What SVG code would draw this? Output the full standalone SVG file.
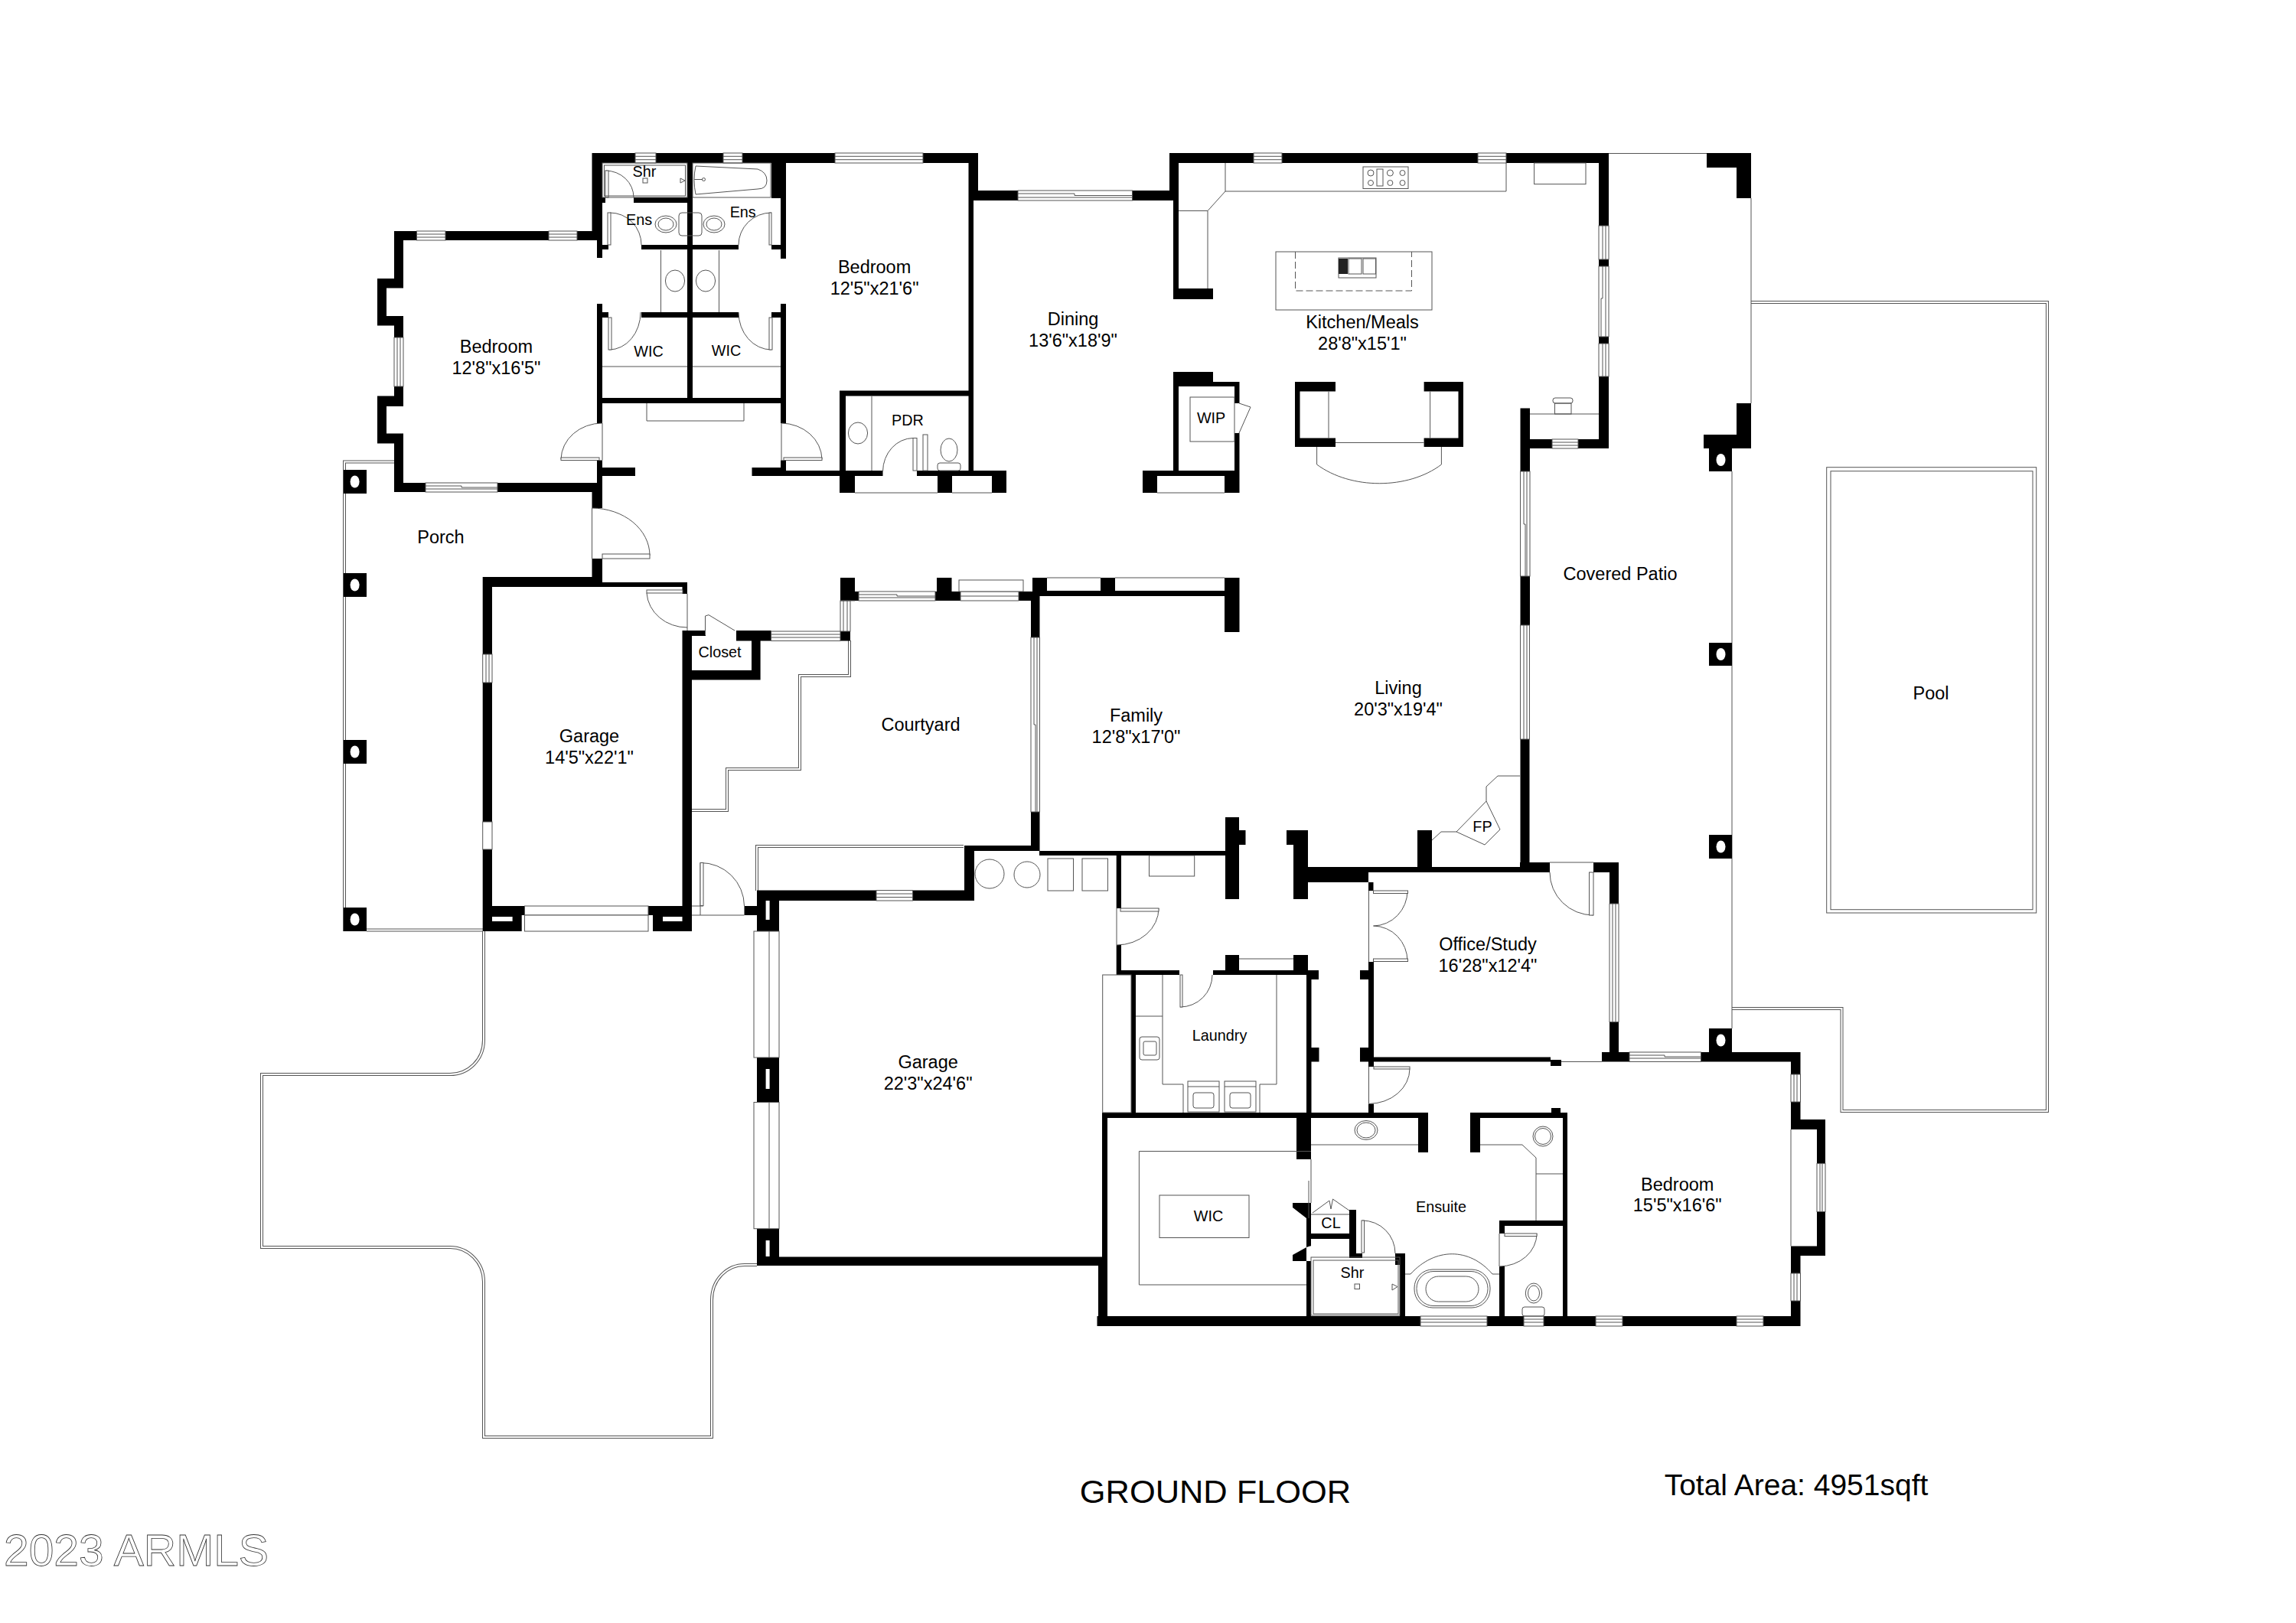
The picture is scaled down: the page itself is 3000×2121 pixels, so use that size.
<svg xmlns="http://www.w3.org/2000/svg" width="3000" height="2121" viewBox="0 0 3000 2121">
<style>
text{font-family:"Liberation Sans",Arial,sans-serif;fill:#000;text-anchor:middle}
.l{font-size:23.500px}.s{font-size:19.800px}
.t,.w,.d,.f{stroke:#555;stroke-width:1}
.t,.d{fill:none}
.w,.f{fill:#fff}
.o{fill:none;stroke:#555;stroke-width:4}
.i{fill:none;stroke:#fff;stroke-width:2}
</style>
<rect width="3000" height="2121" fill="#fff"/>
<g id="outdoor">
<path id="walkway" class="o" d="M632 1217V1359C632 1385 612 1404 588 1404H342V1630H588C612 1630 632 1650 632 1675V1878H930V1699C930 1672 950 1653 973 1653H989"/>
<path class="i" d="M632 1217V1359C632 1385 612 1404 588 1404H342V1630H588C612 1630 632 1650 632 1675V1878H930V1699C930 1672 950 1653 973 1653H989"/>
<path id="poolDeck" class="o" d="M2288 395H2675V1452H2406.500V1318H2263"/>
<path class="i" d="M2288 395H2675V1452H2406.500V1318H2263"/>
<g id="pool"><rect class="t" x="2386.700" y="610.700" width="274" height="582.300"/><rect class="t" x="2392" y="615.700" width="264" height="573" stroke-width="2"/></g>
<path id="courtSteps" class="o" d="M1110 837V883H1045V1005H950V1059H904"/>
<path class="i" d="M1110 837V883H1045V1005H950V1059H904"/>
<path id="planter" class="o" d="M1259 1106H989V1164"/>
<path class="i" d="M1259 1106H989V1164"/>
<path class="o" d="M450 1217V603.500H515M479 1215.500H631" stroke-width="3"/>
<path class="i" d="M450 1217V603.500H515M479 1215.500H631" stroke-width="1"/>
<path class="t" d="M2102 200.500H2230M2288 259V527M2263 616V1344"/>
</g>
<path id="walls" fill="#000" d="M773.500 200H1278V213H773.500zM773.500 200H787V314H773.500zM515 302H787V314H515zM780 314H787V337H780zM1265.500 200H1278V262H1265.500zM1265.500 262H1272V622H1265.500zM1272 249H1540V262H1272z
M515 302H527V364H515zM493 364H527V376.500H493zM493 364H505V425.600H493zM493 413H527V425.600H493zM515 413H527V441H515zM515 505H527V531H515zM493 517.500H527V531H493zM493 517.500H505V579.500H493zM493 566.600H527V579.500H493zM515 566.600H527V643H515zM515 631H787V643H515z
M780 397H787V553H780zM780 601.500H787V643H780zM780 611H830V622H780zM773.500 631H787V664H773.500zM773.500 730H787V761H773.500z
M630.700 754H787V767H630.700zM787 761H898V767H787zM891.500 761H898V776H891.500z
M898 213H905V527H898zM1008 213H1027V259H1008zM1020 259H1027V338H1020zM780 258H791V265H780zM828 258H898V265H828zM838 320H898V326H838zM905 320H965V326H905zM1008 320H1027V326H1008zM780 320H795V326H780zM838 408H898V415H838zM905 408H965V415H905zM780 408H795V415H780zM1008 408H1027V415H1008zM1020 397H1027V553H1020zM1020 601.500H1027V622H1020zM982.500 611H1027V622H982.500zM1027 615H1097V622H1027zM787 520H1027V527H787z
M1097 510.600H1105V644H1097zM1097 510.600H1272V517.500H1097zM1097 615H1153.500V622H1097zM1198 615H1315V622H1198zM1098 615H1117V644H1098zM1225 615H1244V644H1225zM1296 615H1315V644H1296z
M1528 200H2102V213H1528zM1528 200H1540V262H1528zM1533 262H1540V391H1533zM1533 377H1585V391H1533zM2089 200H2102V295H2089zM2089 339H2102V348H2089zM2089 440H2102V449H2089zM2089 492H2102V586H2089zM1986.500 574H2102V586H1986.500zM1986.500 533.500H1999V616H1986.500zM1986.500 753H1999V817H1986.500zM1986.500 966H1998.500V1140H1986.500z
M1533 486H1585V499H1533zM1533 499H1619.500V505H1533zM1533 505H1540V622H1533zM1613 505H1619.500V527H1613zM1613 566H1619.500V644H1613zM1493 615H1619.500V622H1493zM1493 615H1512V644H1493zM1600 615H1619.500V644H1600z
M1692 499H1745V511.500H1692zM1692 499H1698.500V584H1692zM1692 572.500H1745V584H1692zM1860.600 499H1912V511.500H1860.600zM1905.500 499H1912V584H1905.500zM1860.600 572.500H1912V584H1860.600z
M2230 200H2288V219H2230zM2269 200H2288V259H2269zM2269 527H2288V586H2269zM2226 568H2288V586H2226zM2233 586H2263V616H2233zM2233 840H2263V870H2233zM2233 1091H2263V1122H2233zM2233 1344H2263V1375H2233z
M449 614H479V645H449zM449 749H479V780H449zM449 967H479V998H449zM449 1186H479V1217H449z
M1098 755H1117V785H1098zM1098 773H1122V785H1098zM1222 773H1255V785H1222zM1224 755H1243.500V773H1224zM1331 773H1349V785H1331zM1349 755H1368V779H1349zM1349 772H1619.500V779H1349zM1438 755H1457V772H1438zM1600 755H1619.500V826H1600zM1347 779H1358.500V833H1347zM1347 1061H1358.500V1112H1347zM1260 1105H1358V1112H1260zM1358 1112H1619V1118H1358zM1098 825H1111V837.500H1098z
M630.700 754H643V855H630.700zM630.700 892H643V1074H630.700zM630.700 1110H643V1217H630.700zM891.500 824H904V1217H891.500zM891.500 824H922V831H891.500zM962 824H1007.600V837.500H962zM982 831H993.600V888.600H982zM891.500 876H993.600V888.600H891.500z
M630.700 1184H685.500V1196H630.700zM630.700 1184H681.700V1217H630.700zM847 1184H904V1196H847zM853 1184H904V1217H853z
M989 1163.600H1272V1177H989zM1260 1105H1273V1177H1260zM972.500 1184H989V1196H972.500zM989 1163.600H1018V1217H989zM989 1382H1018V1440.500H989zM989 1605.700H1018V1654H989zM989 1642.500H1446V1654H989zM1435 1642.500H1447V1733H1435zM1433.500 1720H2352.500V1733H1433.500z
M1458.700 1118H1465V1187H1458.700zM1458.700 1235H1465V1274H1458.700zM1601 1068H1619V1175H1601zM1619 1085H1627.500V1104H1619zM1681 1085H1709V1104H1681zM1690 1085H1709V1175H1690zM1709 1133H1788V1153H1709zM1709 1133H2024V1140H1709zM1788 1153H1794.500V1164H1788zM1852 1085H1871V1133H1852zM2082 1127H2115V1140H2082zM1986 1127H2025V1140H1986zM2103 1127H2115V1181H2103zM2103 1335.600H2115V1387.500H2103z
M1788 1257H1795V1387.500H1788zM1777 1268H1795V1280H1777zM1777 1369H1795V1387.500H1777zM1788 1381.500H2026V1387.500H1788zM2026 1385H2040V1393H2026zM2093 1375H2129V1387.500H2093zM2222.500 1375H2352.500V1387.500H2222.500zM1788 1387.500H1795V1394H1788zM1788 1442.500H1795V1454H1788z
M2340 1375H2352.500V1404H2340zM2340 1440H2352.500V1476H2340zM2340 1463H2385V1476H2340zM2374 1463H2385V1520.600H2374zM2374 1583.500H2385V1641H2374zM2340 1628.500H2385V1641H2340zM2340 1628.500H2352.500V1664H2340zM2340 1700H2352.500V1733H2340z
M1459 1268H1541V1274H1459zM1585 1268H1722V1274H1585zM1601 1248H1619V1268H1601zM1690 1248H1709V1268H1690zM1709 1268H1723V1280H1709zM1707 1274H1713.500V1454H1707zM1707 1369H1723.500V1387.500H1707zM1478 1274H1484V1454H1478z
M1440 1454H1866V1461H1440zM1440 1454H1447V1733H1440zM1694 1461H1713V1515H1694zM1853 1461H1866V1506H1853zM1921 1454H1934V1506H1921zM1921 1454H2048V1461H1921zM2042 1454H2048V1720H2042zM2027 1448H2039V1454H2027zM1959 1595H2042V1602H1959zM1959 1602H1966V1612H1959zM1959 1655H1966V1720H1959zM1707 1587H1713V1720H1707zM1707 1612H1772V1619H1707zM1763 1581H1772V1644H1763zM1763 1638H1780V1644H1763zM1823 1638H1836V1653H1823zM1829 1638H1836V1720H1829z
M1689 1572H1713V1593L1707 1592L1689 1578zM1689 1648H1713V1628L1707 1630L1689 1640z"/>
<g id="wallHoles" fill="#fff">
<ellipse cx="463.600" cy="629.500" rx="6" ry="8"/><ellipse cx="463.600" cy="764.500" rx="6" ry="8"/><ellipse cx="463.600" cy="982.500" rx="6" ry="8"/><ellipse cx="463.600" cy="1201.500" rx="6" ry="8"/>
<ellipse cx="2248.500" cy="601" rx="6" ry="8"/><ellipse cx="2248.500" cy="855" rx="6" ry="8"/><ellipse cx="2248.500" cy="1106.500" rx="6" ry="8"/><ellipse cx="2248.500" cy="1359.500" rx="6" ry="8"/>
<rect x="643" y="1198" width="26.600" height="6"/><rect x="866" y="1198" width="25.500" height="6"/>
<rect x="1000.600" y="1177" width="5" height="25"/><rect x="1000.600" y="1397" width="5" height="26"/><rect x="1000.600" y="1621" width="5" height="21"/>
</g>
<g id="windows">
<rect class="w" x="830" y="200" width="27" height="13"/><rect class="w" x="945" y="200" width="25" height="13"/><rect class="w" x="1091" y="200" width="115" height="13"/><rect class="w" x="1638" y="200" width="37" height="13"/><rect class="w" x="1931" y="200" width="37" height="13"/>
<rect class="w" x="544.500" y="302" width="37.500" height="12"/><rect class="w" x="717" y="302" width="37" height="12"/><rect class="w" x="2028" y="574" width="34" height="12"/>
<rect class="w" x="556" y="631" width="94" height="12"/><rect class="w" x="1330" y="249" width="149.500" height="13"/><rect class="w" x="1122" y="773" width="100" height="12"/><rect class="w" x="1255" y="773" width="76" height="12"/><rect class="w" x="1253" y="758" width="84" height="15"/><rect class="w" x="1007.600" y="825" width="90.400" height="12.500"/><rect class="w" x="1145" y="1163.600" width="47.600" height="13.400"/><rect class="w" x="2129" y="1375" width="93.500" height="12.500"/>
<rect class="w" x="1856" y="1720" width="87" height="13"/><rect class="w" x="1991" y="1720" width="26" height="13"/><rect class="w" x="2085" y="1720" width="35" height="13"/><rect class="w" x="2269" y="1720" width="35" height="13"/>
<rect class="w" x="685.500" y="1184" width="161.500" height="12" stroke="none"/><rect class="w" x="685.500" y="1196" width="161.500" height="21"/>
<rect class="w" x="515" y="441" width="12" height="64"/><rect class="w" x="630.700" y="855" width="12.300" height="37"/><rect class="w" x="630.700" y="1074" width="12.300" height="36"/><rect class="w" x="1098" y="785" width="13" height="40"/><rect class="w" x="1347" y="833" width="11.500" height="228"/><rect class="w" x="2089" y="295" width="13" height="44"/><rect class="w" x="2089" y="348" width="13" height="92"/><rect class="w" x="2089" y="449" width="13" height="43"/><rect class="w" x="1986.500" y="616" width="12.500" height="137"/><rect class="w" x="1986.500" y="817" width="12" height="149"/><rect class="w" x="2103" y="1181" width="12" height="154.600"/><rect class="w" x="2340" y="1404" width="12.500" height="36"/><rect class="w" x="2374" y="1520.600" width="11" height="62.900"/><rect class="w" x="2340" y="1664" width="12.500" height="36"/><rect class="w" x="985" y="1217" width="33" height="165"/><rect class="w" x="985" y="1440.500" width="33" height="165.200"/>
<path class="t" d="M830 204.300H857M830 208.700H857M945 204.300H970M945 208.700H970M1091 204.300H1206M1091 208.700H1206M1638 204.300H1675M1638 208.700H1675M1931 204.300H1968M1931 208.700H1968M544.500 306H582M544.500 310H582M717 306H754M717 310H754M2028 578H2062M2028 582H2062M556 635H603V637H650M556 639H650M1330 253H1404V255.500H1479.500M1330 258H1479.500M1122 777H1172V779H1222M1122 781H1222M1255 779H1331M1007.600 829H1098M1007.600 833H1098M1145 1168H1192.600M1145 1172.500H1192.600M2129 1379H2175V1381H2222.500M2129 1383H2222.500M1856 1724H1943M1856 1728H1943M1991 1724H2017M1991 1728H2017M2085 1724H2120M2085 1728H2120M2269 1724H2304M2269 1728H2304M519 441V505M523 441V505M635 855V892M639 855V892M1102 785V825M1107 785V825M1351 833V947H1353V1061M1355 833V1061M2094 295V339M2098 295V339M2094 348V390H2092V440M2098 348V440M2094 449V492M2098 449V492M1991 616V685H1993V753M1995 616V753M1991 817V966M1995 817V966M2107 1181V1335M2111 1181V1335M2344 1404V1440M2348 1404V1440M2378 1520V1583M2381 1520V1583M2344 1664V1700M2348 1664V1700M1005 1217V1382M1005 1440.500V1605.700M2340 1476V1628.500M1117 785H1098"/>
<path class="t" d="M1117 644H1225M1244 644H1296M1512 644H1600M1368 755H1438M1457 755H1600M1619 1253H1690"/>
</g>
<g id="doors">
<path class="d" d="M787 553V601.500M787 553A54 48 0 0 0 733 600M1021 553V601.500M1021 553A54 48 0 0 1 1074 600M773.500 664V730M773.500 664A76 62 0 0 1 849 726M898 776V824M845 775A53 48 0 0 0 898 820M921.500 830V805L926 803.600L960 824M1153.500 616A40 44 0 0 1 1193 572.500M791 223A37 35 0 0 1 828 258M797 278A41 42 0 0 1 838 320M1008 278A43 42 0 0 0 965 320M796 457A41 49 0 0 0 837 408M1008 457A43 49 0 0 1 965 408"/>
<path class="d" d="M915 1127.500V1196M904 1184H919M904 1196H972.500M915 1127.500A57 57 0 0 1 972.500 1184M1459 1187V1235M1514 1187A55 48 0 0 1 1459 1235M1788.500 1164V1257M1839 1164A45 46 0 0 1 1794.500 1210A45 46 0 0 1 1839 1256M2025 1127H2082M2025 1140A57 56 0 0 0 2082 1196M1788.500 1394V1442.500M1842 1396.600A54 46 0 0 1 1788.500 1442.500M1584 1274A42 42 0 0 1 1542 1316M1959 1612V1655M2008 1612A49 43 0 0 1 1959 1655M1780 1595A43 43 0 0 1 1823 1638M1619 527L1634 532L1619 566M2040 1387.500H2093"/>
<rect class="f" x="733" y="598" width="50" height="3.500"/><rect class="f" x="1024" y="598" width="50" height="3.500"/><rect class="f" x="787" y="724" width="62" height="6"/><rect class="f" x="845" y="771" width="47" height="4"/><rect class="f" x="1193" y="572.500" width="5" height="42.500"/><rect class="f" x="1206" y="568" width="6" height="47"/><rect class="f" x="791" y="223" width="4" height="35"/><rect class="f" x="794" y="278" width="4" height="42"/><rect class="f" x="1005" y="278" width="3" height="42"/><rect class="f" x="795" y="415" width="4" height="42"/><rect class="f" x="1005" y="415" width="4" height="42"/><rect class="f" x="915" y="1127.500" width="4" height="56"/><rect class="f" x="1464" y="1187" width="50" height="4"/><rect class="f" x="1794.500" y="1164" width="45" height="3.500"/><rect class="f" x="1794.500" y="1253" width="45" height="3.500"/><rect class="f" x="2076.500" y="1140" width="5.500" height="56"/><rect class="f" x="1795" y="1394" width="47" height="3"/><rect class="f" x="1542" y="1274" width="3" height="42"/><rect class="f" x="1966" y="1612" width="42" height="3.500"/><rect class="f" x="1779" y="1595" width="3.500" height="42"/>
<path class="d" d="M1715 1585L1737 1569L1739 1580L1741.500 1567L1763 1582"/>
</g>
<g id="fixtures">
<path class="t" d="M1601 213V250H1968V213M1601 250L1578 275.500H1540M1578 275.500V377M1999 541H2089M1736 511.500V572.500M1868.600 511.500V572.500M1745 578.500H1860.600M1720.600 584V607C1765 640 1840 640 1883.400 607V584"/>
<rect class="t" x="2004.600" y="213" width="67.400" height="27.600"/>
<g id="stove"><rect class="t" x="1781" y="218" width="59" height="28.500"/><rect class="t" x="1799" y="221" width="8" height="22"/><circle class="t" cx="1791" cy="226" r="4"/><circle class="t" cx="1816.400" cy="226" r="4"/><circle class="t" cx="1832.500" cy="226" r="3.500"/><circle class="t" cx="1791" cy="239" r="3.500"/><circle class="t" cx="1816.400" cy="239" r="3.500"/><circle class="t" cx="1832.500" cy="239" r="3.500"/></g>
<g id="island"><rect class="t" x="1667" y="329" width="204" height="76"/><path class="t" d="M1692.500 329V380H1844.500V329" stroke-dasharray="9 4"/><rect class="t" x="1749" y="337" width="49" height="26"/><rect x="1749" y="338" width="12" height="20" fill="#222"/><rect class="f" x="1762" y="338" width="17" height="20"/><rect class="f" x="1781" y="338" width="16.500" height="20"/></g>
<rect class="t" x="1555" y="519" width="58" height="58"/>
<g id="bbq"><rect class="t" x="2031.500" y="527" width="21.500" height="14"/><rect class="t" x="2029" y="520" width="26" height="7" rx="3"/></g>
<path class="t" d="M863.500 327V408M939.500 327V408M787 479H898M905 479H1020M845 527V550H972V527M1139 517.500V615"/>
<ellipse class="t" cx="882" cy="367" rx="12.600" ry="14"/><ellipse class="t" cx="922" cy="367" rx="12.600" ry="14"/><ellipse class="t" cx="1121" cy="566" rx="12.600" ry="14"/>
<g id="pdrWc"><ellipse class="t" cx="1240" cy="588" rx="11" ry="15"/><rect class="t" x="1225" y="605" width="30" height="10" rx="3"/></g>
<rect class="t" x="787" y="213" width="111" height="45"/><rect class="t" x="789.500" y="216" width="106" height="40"/><rect class="t" x="840" y="233" width="6" height="6"/><path class="t" d="M889 233L895 236L889 239z"/>
<rect class="t" x="905" y="213" width="102" height="45"/><path class="t" d="M909 217L990 221Q1002 225 1002 236Q1002 247 990 247L909 254Q905 235 909 217zM907 234.500H918"/><circle class="t" cx="919.500" cy="234.500" r="2"/>
<g id="wcPair"><rect class="t" x="887" y="278" width="30" height="30" rx="4"/><ellipse class="t" cx="870" cy="293" rx="14" ry="11"/><ellipse class="t" cx="870" cy="293" rx="10" ry="8"/><ellipse class="t" cx="933" cy="293" rx="14" ry="11"/><ellipse class="t" cx="933" cy="293" rx="10" ry="8"/></g>
<g id="utility"><ellipse class="t" cx="1293" cy="1142" rx="19" ry="19"/><ellipse class="t" cx="1342" cy="1143" rx="17" ry="17"/><rect class="t" x="1369" y="1122" width="33.500" height="42"/><rect class="t" x="1414" y="1122" width="33.500" height="42"/><rect class="t" x="1501.500" y="1118" width="59.200" height="27"/></g>
<path class="t" d="M1871 1098L1883 1087H1903M1942 1047V1028L1957 1014H1986"/><path class="t" d="M1942 1047L1960 1084L1940 1104L1903 1087z"/>
<rect class="t" x="1440.700" y="1274" width="37.300" height="180"/>
<path class="t" d="M1484 1328H1519M1519 1274V1417H1546V1454M1668 1274V1417H1646V1454"/>
<g id="laundryFix"><rect class="t" x="1489" y="1355" width="26" height="30" rx="3"/><rect class="t" x="1494" y="1361" width="17" height="18" rx="2"/><rect class="t" x="1552" y="1413" width="41" height="40"/><rect class="t" x="1559" y="1428" width="27" height="20" rx="3"/><path class="t" d="M1552 1420H1593M1600 1420H1641"/><rect class="t" x="1600" y="1413" width="41" height="40"/><rect class="t" x="1607" y="1428" width="27" height="20" rx="3"/></g>
<path class="t" d="M1713 1504.500H1488.400V1679H1707M1713 1515V1572M1713 1496H1853M1934 1496H1989L2007 1513V1595M2007 1534H2042M1713 1587H1763M1710 1543V1592M1836 1665H1843C1875 1630 1920 1630 1950 1665H1959"/>
<rect class="t" x="1515" y="1562" width="117" height="55.500"/>
<ellipse class="t" cx="1785" cy="1477" rx="15" ry="12.500"/><ellipse class="t" cx="1785" cy="1477" rx="12" ry="10"/><circle class="t" cx="2016" cy="1485" r="13"/><circle class="t" cx="2016" cy="1485" r="10.500"/>
<g id="shower"><rect class="t" x="1713" y="1643" width="116" height="76"/><rect class="t" x="1716" y="1647" width="111" height="70"/><rect class="t" x="1770" y="1678" width="6.500" height="6.500"/><path class="t" d="M1819 1678L1826 1681.500L1819 1686z"/></g>
<g id="tub"><rect class="t" x="1848" y="1659" width="99" height="50" rx="24"/><rect class="t" x="1851" y="1661.500" width="93" height="45" rx="22"/><rect class="t" x="1863" y="1668" width="69" height="33" rx="16.500"/></g>
<g id="wc"><ellipse class="t" cx="2004" cy="1690" rx="10.700" ry="13"/><ellipse class="t" cx="2004" cy="1690" rx="7.500" ry="10"/><rect class="t" x="1989" y="1708" width="29" height="12" rx="3"/></g>
</g>
<g id="labels">
<text class="s" x="842" y="231">Shr</text>
<text class="s" x="835" y="293.700">Ens</text>
<text class="s" x="970.700" y="283.700">Ens</text>
<text class="s" x="847.600" y="466">WIC</text>
<text class="s" x="949" y="465">WIC</text>
<text class="l" x="648.400" y="461">Bedroom</text><text class="l" x="648.400" y="489">12'8"x16'5"</text>
<text class="l" x="1142.600" y="357">Bedroom</text><text class="l" x="1142.600" y="385">12'5"x21'6"</text>
<text class="s" x="1186" y="555.600">PDR</text>
<text class="l" x="1402" y="425">Dining</text><text class="l" x="1402" y="453">13'6"x18'9"</text>
<text class="l" x="1780" y="429">Kitchen/Meals</text><text class="l" x="1780" y="457">28'8"x15'1"</text>
<text class="s" x="1582.600" y="553">WIP</text>
<text class="l" x="576" y="710">Porch</text>
<text class="s" x="940.600" y="859">Closet</text>
<text class="l" x="2117" y="758">Covered Patio</text>
<text class="l" x="2523" y="914">Pool</text>
<text class="l" x="770" y="970">Garage</text><text class="l" x="770" y="998">14'5"x22'1"</text>
<text class="l" x="1203" y="955">Courtyard</text>
<text class="l" x="1484.500" y="943">Family</text><text class="l" x="1484.500" y="971">12'8"x17'0"</text>
<text class="l" x="1827" y="907">Living</text><text class="l" x="1827" y="935">20'3"x19'4"</text>
<text class="s" x="1937" y="1087">FP</text>
<text class="l" x="1944" y="1241.500">Office/Study</text><text class="l" x="1944" y="1269.500">16'28"x12'4"</text>
<text class="l" x="1212.600" y="1395.500">Garage</text><text class="l" x="1212.600" y="1423.500">22'3"x24'6"</text>
<text class="s" x="1593.600" y="1360">Laundry</text>
<text class="s" x="1579" y="1596">WIC</text>
<text class="s" x="1883" y="1583.500">Ensuite</text>
<text class="s" x="1739" y="1605">CL</text>
<text class="s" x="1767" y="1670">Shr</text>
<text class="l" x="2191.700" y="1555.500">Bedroom</text><text class="l" x="2191.700" y="1583">15'5"x16'6"</text>
<text x="1588" y="1964" font-size="43.400">GROUND FLOOR</text>
<text x="2347" y="1953.500" font-size="39">Total Area: 4951sqft</text>
<text x="178" y="2046" font-size="58" textLength="346" lengthAdjust="spacingAndGlyphs" style="fill:#fff;stroke:#333;stroke-width:.8">2023 ARMLS</text>
</g>
</svg>
